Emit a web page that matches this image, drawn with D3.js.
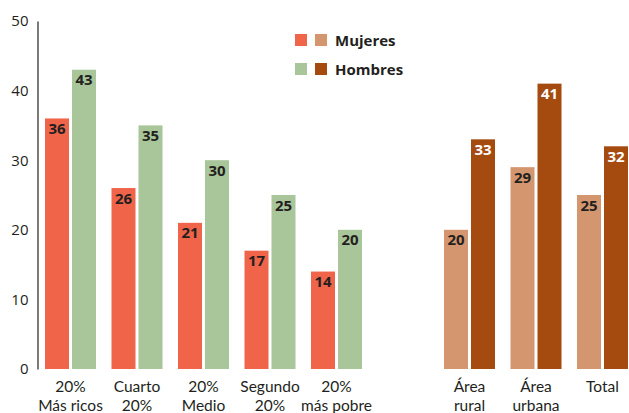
<!DOCTYPE html>
<html><head><meta charset="utf-8">
<script src="https://cdn.jsdelivr.net/npm/d3@7"></script>
<style>body{margin:0;background:#fff}svg{display:block}</style>
</head><body><svg id="c" width="629" height="413"></svg>
<script>
const categories = ["20%|Más ricos","Cuarto|20%","20%|Medio","Segundo|20%","20%|más pobre","Área|rural","Área|urbana","Total"];
const groupType = ["q","q","q","q","q","a","a","a"];
const mujeres = [36,26,21,17,14,20,29,25];
const hombres = [43,35,30,25,20,33,41,32];
const series = ["Mujeres","Hombres"];
const yTicks = [0,10,20,30,40,50];

const colors = {
  q: {Mujeres:"#F0654A", Hombres:"#A9C59A"},
  a: {Mujeres:"#D4966F", Hombres:"#A64B10"}
};
const labelColors = {
  q: {Mujeres:"#231F20", Hombres:"#231F20"},
  a: {Mujeres:"#231F20", Hombres:"#FFFFFF"}
};
const font = "'Open Sans', 'DejaVu Sans', sans-serif";
const catFont = "Lato, 'Open Sans', sans-serif";

const svg = d3.select("#c");
const slots = [...categories.slice(0,5), "__gap__", ...categories.slice(5)];
const x = d3.scaleBand().domain(slots).range([45,628]).paddingInner(0.233).paddingOuter(0);
const xi = d3.scaleBand().domain(series).range([0, x.bandwidth()]).paddingInner(0.111);
const y = d3.scaleLinear().domain([0,50]).range([369,21]);

// y axis
const ya = svg.append("g").attr("transform","translate(37.5,0)")
  .call(d3.axisLeft(y).tickValues(yTicks).tickSize(0).tickPadding(9));
ya.select(".domain").attr("stroke","#231F20").attr("stroke-width",1.2);
ya.selectAll("text").attr("font-family",font).attr("font-size",15).attr("fill","#231F20");

const data = categories.map((c,i)=>({cat:c, type:groupType[i], vals:[{s:"Mujeres",v:mujeres[i]},{s:"Hombres",v:hombres[i]}]}));

const g = svg.selectAll("g.grp").data(data).enter().append("g")
  .attr("transform", d=>`translate(${x(d.cat)},0)`);
g.selectAll("rect").data(d=>d.vals.map(o=>({...o,type:d.type}))).enter().append("rect")
  .attr("x", d=>xi(d.s)).attr("width", xi.bandwidth())
  .attr("y", d=>y(d.v)).attr("height", d=>y(0)-y(d.v))
  .attr("fill", d=>colors[d.type][d.s]);
g.selectAll("text.val").data(d=>d.vals.map(o=>({...o,type:d.type}))).enter().append("text")
  .attr("class","val")
  .attr("x", d=>xi(d.s)+xi.bandwidth()/2).attr("y", d=>y(d.v)+15.5)
  .attr("text-anchor","middle").attr("font-family",font).attr("font-weight",700).attr("font-size",15)
  .attr("fill", d=>labelColors[d.type][d.s]).text(d=>d.v);

// x labels (one text per line)
g.each(function(d){
  const lines = d.cat.split("|");
  lines.forEach((l,k)=>d3.select(this).append("text").attr("text-anchor","middle")
    .attr("font-family",catFont).attr("font-size",15.5).attr("fill","#231F20")
    .attr("x", x.bandwidth()/2).attr("y", 391.5+k*19).text(l));
});

// legend
const leg = svg.append("g").attr("transform","translate(295,34)");
series.forEach((s,k)=>{
  const row = leg.append("g").attr("transform",`translate(0,${k*29})`);
  row.append("rect").attr("x",0).attr("y",0).attr("width",12).attr("height",12).attr("fill",colors.q[s]);
  row.append("rect").attr("x",20).attr("y",0).attr("width",12).attr("height",12).attr("fill",colors.a[s]);
  row.append("text").attr("x",40).attr("y",12).attr("font-family",font).attr("font-weight",700)
    .attr("font-size",15).attr("fill","#231F20").text(s);
});
</script></body></html>
